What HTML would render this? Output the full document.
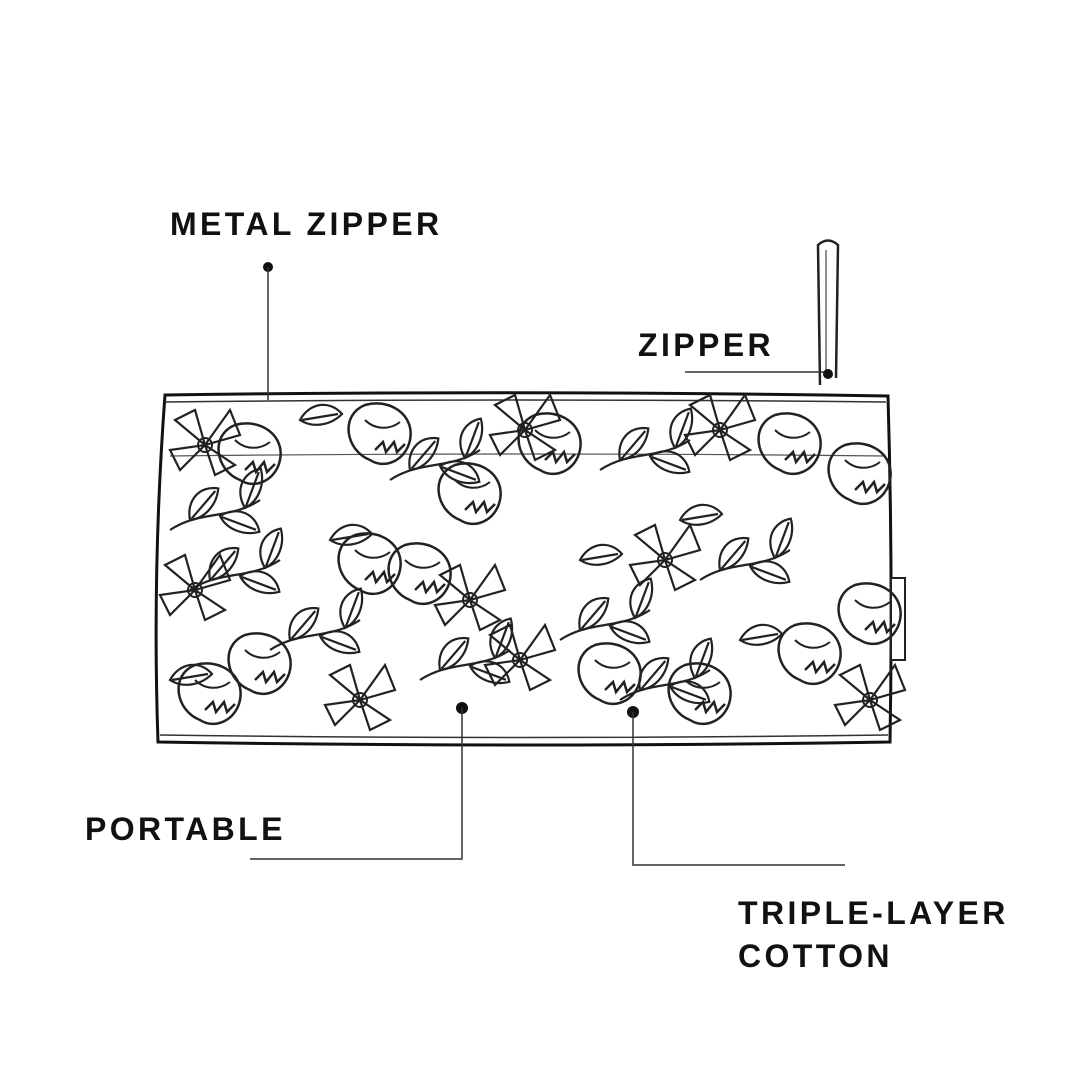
<!DOCTYPE html>
<html><head><meta charset="utf-8"><style>
html,body{margin:0;padding:0;background:#fff;}
svg{display:block}
text{font-family:"Liberation Sans",sans-serif;font-weight:bold;font-size:32px;letter-spacing:3.4px;fill:#111}
</style></head><body>
<svg width="1080" height="1080" viewBox="0 0 1080 1080" xmlns="http://www.w3.org/2000/svg">
<defs>
<g id="leaf"><path d="M0 0 C10 -18 30 -20 42 -6 C30 6 12 8 0 0 Z M2 0 L38 -6" fill="none" stroke="#222" stroke-width="2.2"/></g>
<g id="curl"><path d="M0 0 C-25 -10 -30 -45 -5 -55 C20 -62 45 -45 40 -20 C36 0 15 10 0 0 Z M5 -10 l8 -8 l3 10 l8 -10 l3 10 l8 -8" fill="none" stroke="#222" stroke-width="2.5"/><path d="M-5 -40 C5 -30 20 -30 30 -38" fill="none" stroke="#222" stroke-width="2"/></g>
<g id="flower"><path d="M0 0 L-30 -25 L-10 -35 Z M0 0 L25 -35 L35 -10 Z M0 0 L30 20 L10 30 Z M0 0 L-25 25 L-35 5 Z" fill="none" stroke="#222" stroke-width="2.2"/><circle r="7" fill="none" stroke="#222" stroke-width="2"/></g>
<g id="vine"><path d="M0 0 C30 -20 60 -10 90 -30" fill="none" stroke="#222" stroke-width="2.2"/><use href="#leaf" x="20" y="-10" transform="rotate(-40 20 -10)"/><use href="#leaf" x="50" y="-14" transform="rotate(30 50 -14)"/><use href="#leaf" x="75" y="-22" transform="rotate(-60 75 -22)"/></g>
</defs>
<path d="M820 385 L818 245 Q828 236 838 245 L836 378" fill="none" stroke="#222" stroke-width="2.5"/>
<path d="M826 250 L826 370" stroke="#444" stroke-width="1.2"/>
<path d="M165 395 Q520 390 888 396 Q893 570 890 742 Q520 748 158 742 Q152 570 165 395 Z" fill="#fff" stroke="#111" stroke-width="3"/>
<path d="M165 402 Q520 398 886 402" fill="none" stroke="#333" stroke-width="1.5"/>
<path d="M170 456 Q520 452 884 456" fill="none" stroke="#555" stroke-width="1.2"/>
<path d="M160 735 Q520 740 888 735" fill="none" stroke="#333" stroke-width="1.5"/>
<rect x="891" y="578" width="14" height="82" fill="#fff" stroke="#222" stroke-width="2"/>
<g>
<use href="#curl" x="240" y="480"/><use href="#curl" x="370" y="460"/><use href="#curl" x="460" y="520"/>
<use href="#curl" x="780" y="470"/><use href="#curl" x="850" y="500"/><use href="#curl" x="410" y="600"/>
<use href="#curl" x="360" y="590"/><use href="#curl" x="250" y="690"/><use href="#curl" x="800" y="680"/>
<use href="#curl" x="690" y="720"/><use href="#curl" x="860" y="640"/><use href="#curl" x="540" y="470"/>
<use href="#curl" x="200" y="720"/><use href="#curl" x="600" y="700"/>
<use href="#flower" x="205" y="445"/><use href="#flower" x="470" y="600"/><use href="#flower" x="665" y="560"/>
<use href="#flower" x="720" y="430"/><use href="#flower" x="195" y="590"/><use href="#flower" x="360" y="700"/>
<use href="#flower" x="525" y="430"/><use href="#flower" x="870" y="700"/><use href="#flower" x="520" y="660"/>
<use href="#vine" x="190" y="590"/><use href="#vine" x="390" y="480"/><use href="#vine" x="600" y="470"/>
<use href="#vine" x="700" y="580"/><use href="#vine" x="420" y="680"/><use href="#vine" x="560" y="640"/>
<use href="#vine" x="270" y="650"/><use href="#vine" x="620" y="700"/><use href="#vine" x="170" y="530"/>
<use href="#leaf" x="680" y="520"/><use href="#leaf" x="740" y="640"/><use href="#leaf" x="300" y="420"/>
<use href="#leaf" x="170" y="680"/><use href="#leaf" x="580" y="560"/><use href="#leaf" x="330" y="540"/>
</g>
<circle cx="268" cy="267" r="5" fill="#111"/><line x1="268" y1="267" x2="268" y2="400" stroke="#333" stroke-width="1.5"/>
<line x1="685" y1="372" x2="828" y2="372" stroke="#333" stroke-width="1.5"/><circle cx="828" cy="374" r="5" fill="#111"/>
<circle cx="462" cy="708" r="6" fill="#111"/><polyline points="462,708 462,859 250,859" fill="none" stroke="#333" stroke-width="1.5"/>
<circle cx="633" cy="712" r="6" fill="#111"/><polyline points="633,712 633,865 845,865" fill="none" stroke="#333" stroke-width="1.5"/>
<text x="170" y="235">METAL ZIPPER</text>
<text x="638" y="356">ZIPPER</text>
<text x="85" y="840">PORTABLE</text>
<text x="738" y="924">TRIPLE-LAYER</text>
<text x="738" y="967">COTTON</text>
</svg>
</body></html>
